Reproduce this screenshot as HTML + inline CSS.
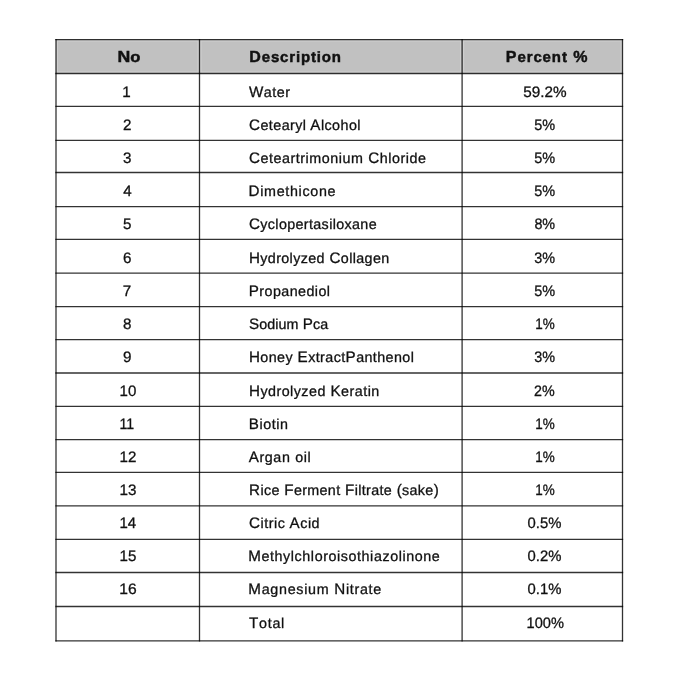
<!DOCTYPE html><html><head><meta charset="utf-8"><style>html,body{margin:0;padding:0;background:#fff;width:679px;height:682px;overflow:hidden}svg{display:block;will-change:transform}</style></head><body>
<svg width="679" height="682" viewBox="0 0 679 682" text-rendering="geometricPrecision">
<rect x="56.0" y="39.6" width="566.5" height="33.9" fill="#c1c1c1"/>
<g stroke="#cfcfcf" stroke-width="4.0"><line x1="56.00" y1="39.60" x2="56.00" y2="73.50"/><line x1="199.50" y1="39.60" x2="199.50" y2="73.50"/><line x1="462.10" y1="39.60" x2="462.10" y2="73.50"/><line x1="622.50" y1="39.60" x2="622.50" y2="73.50"/><line x1="56.00" y1="39.60" x2="622.50" y2="39.60"/><line x1="56.00" y1="73.50" x2="622.50" y2="73.50"/></g>
<rect x="0" y="0" width="679" height="39.60" fill="#fff"/><rect x="0" y="73.50" width="679" height="5" fill="#fff"/><rect x="0" y="39.60" width="56.00" height="33.90" fill="#fff"/><rect x="622.50" y="39.60" width="56.50" height="33.90" fill="#fff"/>
<g stroke="#000" stroke-opacity="0.8" stroke-width="1.3" stroke-linecap="square"><line x1="56.00" y1="39.60" x2="622.50" y2="39.60"/><line x1="56.00" y1="73.50" x2="622.50" y2="73.50"/><line x1="56.00" y1="106.35" x2="622.50" y2="106.35"/><line x1="56.00" y1="140.28" x2="622.50" y2="140.28"/><line x1="56.00" y1="172.50" x2="622.50" y2="172.50"/><line x1="56.00" y1="206.55" x2="622.50" y2="206.55"/><line x1="56.00" y1="239.40" x2="622.50" y2="239.40"/><line x1="56.00" y1="273.20" x2="622.50" y2="273.20"/><line x1="56.00" y1="306.60" x2="622.50" y2="306.60"/><line x1="56.00" y1="339.60" x2="622.50" y2="339.60"/><line x1="56.00" y1="373.00" x2="622.50" y2="373.00"/><line x1="56.00" y1="406.30" x2="622.50" y2="406.30"/><line x1="56.00" y1="439.60" x2="622.50" y2="439.60"/><line x1="56.00" y1="472.45" x2="622.50" y2="472.45"/><line x1="56.00" y1="505.90" x2="622.50" y2="505.90"/><line x1="56.00" y1="539.35" x2="622.50" y2="539.35"/><line x1="56.00" y1="572.50" x2="622.50" y2="572.50"/><line x1="56.00" y1="606.50" x2="622.50" y2="606.50"/><line x1="56.00" y1="640.90" x2="622.50" y2="640.90"/><line x1="56.00" y1="39.60" x2="56.00" y2="640.90"/><line x1="199.50" y1="39.60" x2="199.50" y2="640.90"/><line x1="462.10" y1="39.60" x2="462.10" y2="640.90"/><line x1="622.50" y1="39.60" x2="622.50" y2="640.90"/></g>
<g font-family="Liberation Sans" font-weight="bold" font-size="16.0" fill="#111" stroke="#111" stroke-width="0.45">
<text x="117.56419870573681" y="62.2" textLength="22.937498126846364" lengthAdjust="spacingAndGlyphs">N<tspan font-size="15.0">o</tspan></text>
<text x="249.36097560975153" y="62.2" textLength="91.67431850789808" lengthAdjust="spacing">D<tspan font-size="15.0">escription</tspan></text>
<text x="505.84738921332246" y="62.2" textLength="81.54749945065316" lengthAdjust="spacing">P<tspan font-size="15.0">ercent</tspan> %</text>
</g>
<g font-family="Liberation Sans" font-size="15.2" fill="#111" stroke="#111" stroke-width="0.3">
<text x="126.60" y="97.00" text-anchor="middle">1</text>
<text x="249.00" y="97.00" textLength="41.07" lengthAdjust="spacing">W<tspan font-size="14.3">ater</tspan></text>
<text x="523.23" y="97.00" textLength="43.38" lengthAdjust="spacingAndGlyphs">59.2%</text>
<text x="127.20" y="130.00" text-anchor="middle">2</text>
<text x="249.07" y="130.00" textLength="111.40" lengthAdjust="spacing">C<tspan font-size="14.3">etearyl</tspan> A<tspan font-size="14.3">lcohol</tspan></text>
<text x="534.18" y="130.00" textLength="20.90" lengthAdjust="spacingAndGlyphs">5%</text>
<text x="127.22" y="163.00" text-anchor="middle">3</text>
<text x="248.92" y="163.00" textLength="177.02" lengthAdjust="spacing">C<tspan font-size="14.3">eteartrimonium</tspan> C<tspan font-size="14.3">hloride</tspan></text>
<text x="534.18" y="163.00" textLength="20.90" lengthAdjust="spacingAndGlyphs">5%</text>
<text x="127.40" y="196.00" text-anchor="middle">4</text>
<text x="248.57" y="196.00" textLength="86.98" lengthAdjust="spacing">D<tspan font-size="14.3">imethicone</tspan></text>
<text x="534.18" y="196.00" textLength="20.90" lengthAdjust="spacingAndGlyphs">5%</text>
<text x="127.28" y="229.00" text-anchor="middle">5</text>
<text x="249.02" y="229.00" textLength="127.59" lengthAdjust="spacing">C<tspan font-size="14.3">yclopertasiloxane</tspan></text>
<text x="534.40" y="229.00" textLength="20.75" lengthAdjust="spacingAndGlyphs">8%</text>
<text x="127.11" y="263.00" text-anchor="middle">6</text>
<text x="248.97" y="263.00" textLength="140.19" lengthAdjust="spacing">H<tspan font-size="14.3">ydrolyzed</tspan> C<tspan font-size="14.3">ollagen</tspan></text>
<text x="534.36" y="263.00" textLength="20.79" lengthAdjust="spacingAndGlyphs">3%</text>
<text x="127.03" y="296.00" text-anchor="middle">7</text>
<text x="248.77" y="296.00" textLength="81.29" lengthAdjust="spacing">P<tspan font-size="14.3">ropanediol</tspan></text>
<text x="534.18" y="296.00" textLength="20.90" lengthAdjust="spacingAndGlyphs">5%</text>
<text x="127.24" y="329.00" text-anchor="middle">8</text>
<text x="248.90" y="329.00" textLength="79.37" lengthAdjust="spacing">S<tspan font-size="14.3">odium</tspan> P<tspan font-size="14.3">ca</tspan></text>
<text x="535.25" y="329.00" textLength="19.49" lengthAdjust="spacingAndGlyphs">1%</text>
<text x="127.18" y="362.00" text-anchor="middle">9</text>
<text x="248.97" y="362.00" textLength="164.89" lengthAdjust="spacing">H<tspan font-size="14.3">oney</tspan> E<tspan font-size="14.3">xtract</tspan>P<tspan font-size="14.3">anthenol</tspan></text>
<text x="534.36" y="362.00" textLength="20.79" lengthAdjust="spacingAndGlyphs">3%</text>
<text x="119.50" y="396.00" textLength="16.77" lengthAdjust="spacingAndGlyphs">10</text>
<text x="248.97" y="396.00" textLength="130.27" lengthAdjust="spacing">H<tspan font-size="14.3">ydrolyzed</tspan> K<tspan font-size="14.3">eratin</tspan></text>
<text x="534.01" y="396.00" textLength="20.65" lengthAdjust="spacingAndGlyphs">2%</text>
<text x="119.43" y="429.00" textLength="14.68" lengthAdjust="spacingAndGlyphs">11</text>
<text x="248.67" y="429.00" textLength="39.40" lengthAdjust="spacing">B<tspan font-size="14.3">iotin</tspan></text>
<text x="535.25" y="429.00" textLength="19.49" lengthAdjust="spacingAndGlyphs">1%</text>
<text x="119.50" y="462.00" textLength="16.85" lengthAdjust="spacingAndGlyphs">12</text>
<text x="248.78" y="462.00" textLength="61.95" lengthAdjust="spacing">A<tspan font-size="14.3">rgan</tspan> <tspan font-size="14.3">oil</tspan></text>
<text x="535.25" y="462.00" textLength="19.49" lengthAdjust="spacingAndGlyphs">1%</text>
<text x="119.50" y="495.00" textLength="16.95" lengthAdjust="spacingAndGlyphs">13</text>
<text x="249.07" y="495.00" textLength="189.65" lengthAdjust="spacing">R<tspan font-size="14.3">ice</tspan> F<tspan font-size="14.3">erment</tspan> F<tspan font-size="14.3">iltrate</tspan> (<tspan font-size="14.3">sake</tspan>)</text>
<text x="535.25" y="495.00" textLength="19.49" lengthAdjust="spacingAndGlyphs">1%</text>
<text x="119.51" y="528.00" textLength="16.71" lengthAdjust="spacingAndGlyphs">14</text>
<text x="249.02" y="528.00" textLength="70.55" lengthAdjust="spacing">C<tspan font-size="14.3">itric</tspan> A<tspan font-size="14.3">cid</tspan></text>
<text x="527.51" y="528.00" textLength="33.83" lengthAdjust="spacingAndGlyphs">0.5%</text>
<text x="119.50" y="561.00" textLength="16.84" lengthAdjust="spacingAndGlyphs">15</text>
<text x="248.27" y="561.00" textLength="191.46" lengthAdjust="spacing">M<tspan font-size="14.3">ethylchloroisothiazolinone</tspan></text>
<text x="527.51" y="561.00" textLength="33.83" lengthAdjust="spacingAndGlyphs">0.2%</text>
<text x="119.29" y="594.00" textLength="17.40" lengthAdjust="spacingAndGlyphs">16</text>
<text x="248.37" y="594.00" textLength="132.84" lengthAdjust="spacing">M<tspan font-size="14.3">agnesium</tspan> N<tspan font-size="14.3">itrate</tspan></text>
<text x="527.51" y="594.00" textLength="33.83" lengthAdjust="spacingAndGlyphs">0.1%</text>
<text x="248.93" y="628.00" textLength="35.34" lengthAdjust="spacing">T<tspan font-size="14.3">otal</tspan></text>
<text x="526.58" y="628.00" textLength="37.36" lengthAdjust="spacingAndGlyphs">100%</text>
</g></svg></body></html>
